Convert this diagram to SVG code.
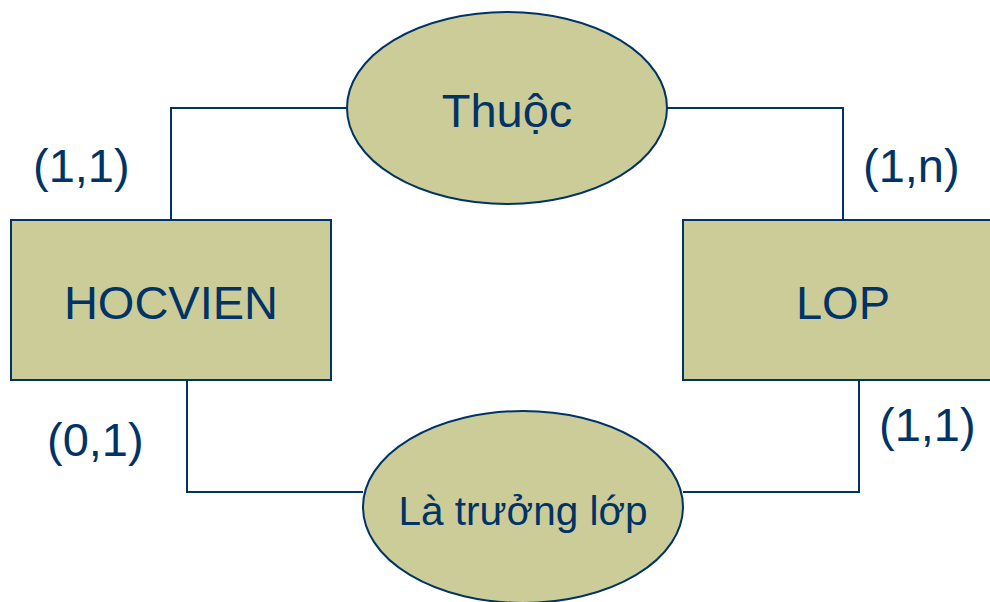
<svg xmlns="http://www.w3.org/2000/svg" width="990" height="602" viewBox="0 0 990 602">
<style>
.shape{fill:#CCCC99;stroke:#003366;stroke-width:2}
.conn{fill:none;stroke:#003366;stroke-width:2}
text{font-family:"Liberation Sans",Arial,sans-serif;font-size:47px;fill:#003366}
.c{text-anchor:middle}
.small{font-size:40.5px}
</style>
<rect width="990" height="602" fill="#fff"/>
<g id="connectors">
<polyline class="conn" points="171,220 171,108 347,108"/>
<polyline class="conn" points="667,108 843,108 843,220"/>
<polyline class="conn" points="187,380 187,492 363,492"/>
<polyline class="conn" points="683,492 859,492 859,380"/>
</g>
<g id="labels">
<text x="33" y="182">(1,1)</text>
<text x="863" y="182">(1,n)</text>
<text x="47" y="456">(0,1)</text>
<text x="879" y="441">(1,1)</text>
</g>
<g id="thuoc">
<ellipse class="shape" cx="507" cy="108" rx="160" ry="96"/>
<text class="c" x="507" y="127">Thuộc</text>
</g>
<g id="hocvien">
<rect class="shape" x="11" y="220" width="320" height="160"/>
<text class="c" x="171" y="319">HOCVIEN</text>
</g>
<g id="lop">
<rect class="shape" x="683" y="220" width="320" height="160"/>
<text class="c" x="843" y="319">LOP</text>
</g>
<g id="latruonglop">
<ellipse class="shape" cx="523" cy="507" rx="160" ry="96"/>
<text class="c small" x="523" y="525">Là trưởng lớp</text>
</g>
</svg>
